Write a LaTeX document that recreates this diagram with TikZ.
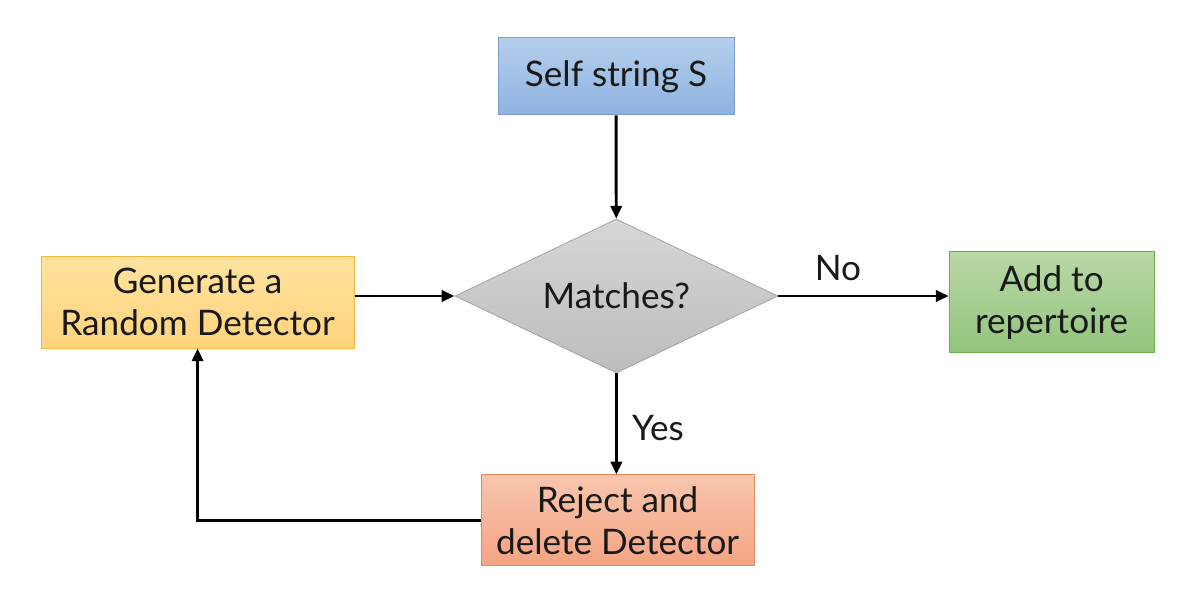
\documentclass[tikz,border=0pt]{standalone}
\usepackage{fontspec}
\setmainfont{Lato}
\usepackage{tikz}
\usetikzlibrary{arrows.meta,positioning,calc,shapes.geometric}
\definecolor{bluetop}{HTML}{B4CEEC}
\definecolor{bluebot}{HTML}{8EB3E0}
\definecolor{blueline}{HTML}{7A9CCB}
\definecolor{yeltop}{HTML}{FFE3A0}
\definecolor{yelbot}{HTML}{FFD37C}
\definecolor{yelline}{HTML}{F3B73C}
\definecolor{greytop}{HTML}{D6D6D6}
\definecolor{greybot}{HTML}{BCBCBC}
\definecolor{greyline}{HTML}{A5A5A5}
\definecolor{orgtop}{HTML}{F8C6AE}
\definecolor{orgbot}{HTML}{F4A482}
\definecolor{orgline}{HTML}{E9875E}
\definecolor{grntop}{HTML}{B8D8A6}
\definecolor{grnbot}{HTML}{93C47D}
\definecolor{grnline}{HTML}{72AE4A}
\tikzset{arr/.style={-{Triangle[length=3.2mm,width=2.8mm]},line width=2.1pt,draw=black},
  box/.style={draw,line width=0.6pt,align=center,inner sep=4pt,font=\fontsize{25}{30}\selectfont,text=black!90},
  lbl/.style={font=\fontsize{25}{30}\selectfont,text=black!90}}
\begin{document}
\begin{tikzpicture}
\useasboundingbox (0,0) rectangle (29.975,-14.925);
\node[box,minimum width=5.9cm,minimum height=1.925cm,top color=bluetop,bottom color=bluebot,draw=blueline] (self) at (15.4,-1.91) {Self string S};
\node[box,diamond,shape aspect=2.1,inner sep=0pt,minimum width=8.075cm,minimum height=3.85cm,top color=greytop,bottom color=greybot,draw=greyline] (match) at (15.41,-7.4) {Matches?};
\node[box,minimum width=7.825cm,minimum height=2.3cm,top color=yeltop,bottom color=yelbot,draw=yelline] (gen) at (4.94,-7.55) {Generate a\\Random Detector};
\node[box,minimum width=5.125cm,minimum height=2.525cm,top color=grntop,bottom color=grnbot,draw=grnline] (add) at (26.29,-7.56) {Add to\\repertoire};
\node[box,minimum width=6.825cm,minimum height=2.275cm,top color=orgtop,bottom color=orgbot,draw=orgline] (reject) at (15.44,-13.01) {Reject and\\delete Detector};
\node[lbl] (no) at (20.95,-6.7) {No};
\node[lbl] (yes) at (16.45,-10.7) {Yes};
\draw[arr] (self) -- (match);
\draw[arr] (gen.east |- match.west) -- (match.west);
\draw[arr] (match.east) -- (add.west |- match.east);
\draw[arr] (match.south) -- (match.south |- reject.north);
\draw[arr] (reject.west) -| (gen.south);
\end{tikzpicture}
\end{document}
